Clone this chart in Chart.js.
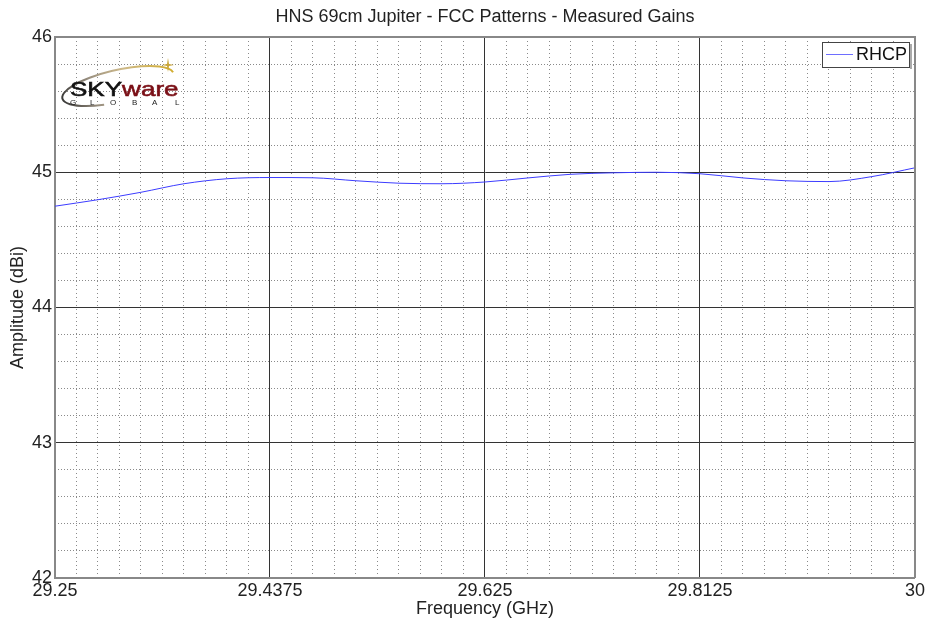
<!DOCTYPE html>
<html><head><meta charset="utf-8">
<script src="https://cdn.jsdelivr.net/npm/chart.js@4"></script>
<style>html,body{margin:0;padding:0;background:#fff}#wrap{width:927px;height:623px}</style>
</head><body><div id="wrap"><canvas id="c" width="927" height="623"></canvas></div>
<script>
const chartTitle = "HNS 69cm Jupiter - FCC Patterns - Measured Gains";
const xTitle = "Frequency (GHz)";
const yTitle = "Amplitude (dBi)";
const seriesName = "RHCP";
const freqs = [29.25,29.2875,29.325,29.3625,29.4,29.4375,29.475,29.5125,29.55,29.5875,29.625,29.6625,29.7,29.7375,29.775,29.8125,29.85,29.8875,29.925,29.9625,30];
const gains = [44.749,44.797,44.852,44.915,44.952,44.961,44.959,44.937,44.919,44.915,44.928,44.958,44.985,44.996,45.0,44.989,44.958,44.937,44.931,44.968,45.033];
const xTicks = [29.25,29.4375,29.625,29.8125,30];
const xTickLabels = ["29.25","29.4375","29.625","29.8125","30"];
const yTicks = [42,43,44,45,46];
const logoWord1 = "SKY", logoWord2 = "ware", logoSub = "GLOBAL";

const FONT = "'Liberation Sans', Arial, sans-serif";

const logoPlugin = {
  id:'logo',
  afterDraw(chart){
    const ctx = chart.ctx;
    ctx.save();
    // swoosh (tilted ellipse arc)
    const g = ctx.createLinearGradient(62,105,170,62);
    g.addColorStop(0,'#333');
    g.addColorStop(0.3,'#9a9080');
    g.addColorStop(0.6,'#cdb98a');
    g.addColorStop(1,'#d2ad2e');
    ctx.strokeStyle = g; ctx.lineWidth = 2;
    ctx.beginPath();
    ctx.ellipse(118,86,57,16,-0.22,0.6*Math.PI,1.97*Math.PI);
    ctx.stroke();
    // star
    ctx.fillStyle='#c9a63a';
    ctx.beginPath();
    ctx.moveTo(168,58); ctx.lineTo(169,64); ctx.lineTo(174,65); ctx.lineTo(169,66); ctx.lineTo(168,72); ctx.lineTo(167,66); ctx.lineTo(162,65); ctx.lineTo(167,64); ctx.closePath(); ctx.fill();
    // words
    ctx.textBaseline='alphabetic';
    ctx.font = "21px " + FONT;
    ctx.save();
    ctx.translate(70,96); ctx.scale(1.24,1);
    ctx.lineWidth = 0.6;
    ctx.fillStyle='#111'; ctx.strokeStyle='#111';
    ctx.fillText(logoWord1,0,0); ctx.strokeText(logoWord1,0,0);
    const w1 = ctx.measureText(logoWord1).width;
    ctx.fillStyle='#7a0f16'; ctx.strokeStyle='#7a0f16';
    ctx.fillText(logoWord2,w1,0); ctx.strokeText(logoWord2,w1,0);
    ctx.restore();
    ctx.font = "8px " + FONT;
    ctx.fillStyle='#222';
    const pos = [70,90,110,132,152,175];
    logoSub.split('').forEach((l,i)=>{ ctx.fillText(l, pos[i], 105); });
    ctx.restore();
  }
};

const legendPlugin = {
  id:'boxLegend',
  afterDraw(chart){
    const ctx = chart.ctx;
    const ds = chart.data.datasets[0];
    ctx.save();
    ctx.fillStyle='#fff';
    ctx.fillRect(822,42,88,25);
    ctx.strokeStyle='#444'; ctx.lineWidth=1;
    ctx.strokeRect(822.5,42.5,87,25);
    ctx.strokeStyle='#aaa'; ctx.lineWidth=2;
    ctx.beginPath(); ctx.moveTo(911,44); ctx.lineTo(911,69); ctx.stroke();
    ctx.strokeStyle='rgb(110,110,255)'; ctx.lineWidth=1;
    ctx.beginPath(); ctx.moveTo(826,54.5); ctx.lineTo(853,54.5); ctx.stroke();
    ctx.fillStyle='#111'; ctx.font="18px "+FONT; ctx.textBaseline='middle';
    ctx.fillText(ds.label,856,55);
    ctx.restore();
  }
};

new Chart(document.getElementById('c'),{
  type:'line',
  data:{datasets:[{label:seriesName,data:freqs.map((f,i)=>({x:f,y:gains[i]})),borderColor:'rgb(60,60,255)',borderWidth:1,pointRadius:0,cubicInterpolationMode:'monotone',fill:false}]},
  options:{
    responsive:false,animation:false,
    layout:{padding:{left:0,right:12,top:0,bottom:0}},
    plugins:{
      legend:{display:false},tooltip:{enabled:false},
      title:{display:true,fullSize:false,text:chartTitle,color:'#222',font:{family:FONT,size:18,weight:'normal'},padding:{top:6,bottom:9.4}}
    },
    scales:{
      xMinor:{type:'linear',position:'top',min:29.25,max:30,z:-1,
        ticks:{display:false},
        grid:{color:'#8a8a8a',lineWidth:1,drawTicks:false},
        border:{display:false,dash:[1,3]},
        afterBuildTicks(s){const t=[];for(let i=0;i<=40;i++)t.push({value:29.25+i*0.01875});s.ticks=t;},
        afterFit(s){s.height=0;}
      },
      yMinor:{type:'linear',position:'right',min:42,max:46,z:-1,
        ticks:{display:false},
        grid:{color:'#8a8a8a',lineWidth:1,drawTicks:false},
        border:{display:false,dash:[1,2]},
        afterBuildTicks(s){const t=[];for(let i=0;i<=20;i++)t.push({value:42+i*0.2});s.ticks=t;},
        afterFit(s){s.width=0;}
      },
      x:{type:'linear',position:'bottom',min:29.25,max:30,
        afterBuildTicks(s){s.ticks=xTicks.map(v=>({value:v}));},
        ticks:{color:'#222',font:{family:FONT,size:18},padding:2,autoSkip:false,maxRotation:0,
          callback(v){const i=xTicks.indexOf(v);return i>=0?xTickLabels[i]:'';}},
        grid:{color:'#333',lineWidth:1,drawTicks:false},
        border:{color:'#888',width:2},
        title:{display:true,text:xTitle,color:'#222',font:{family:FONT,size:18},padding:{top:0,bottom:3}},
        afterFit(s){s.height=45;}
      },
      y:{type:'linear',position:'left',min:42,max:46,
        afterBuildTicks(s){s.ticks=yTicks.map(v=>({value:v}));},
        ticks:{color:'#222',font:{family:FONT,size:18},padding:3},
        grid:{color:'#333',lineWidth:1,drawTicks:false},
        border:{color:'#888',width:2},
        title:{display:true,text:yTitle,color:'#222',font:{family:FONT,size:18},padding:{top:7,bottom:2}},
        afterFit(s){s.width=55;}
      }
    }
  },
  plugins:[logoPlugin,legendPlugin,{
    id:'frame',
    afterDatasetsDraw(chart){
      const a=chart.chartArea,ctx=chart.ctx;ctx.save();ctx.strokeStyle='#888';ctx.lineWidth=2;
      ctx.beginPath();ctx.moveTo(a.left,a.top);ctx.lineTo(a.right,a.top);ctx.lineTo(a.right,a.bottom);ctx.stroke();ctx.restore();
    }
  }]
});
</script></body></html>
